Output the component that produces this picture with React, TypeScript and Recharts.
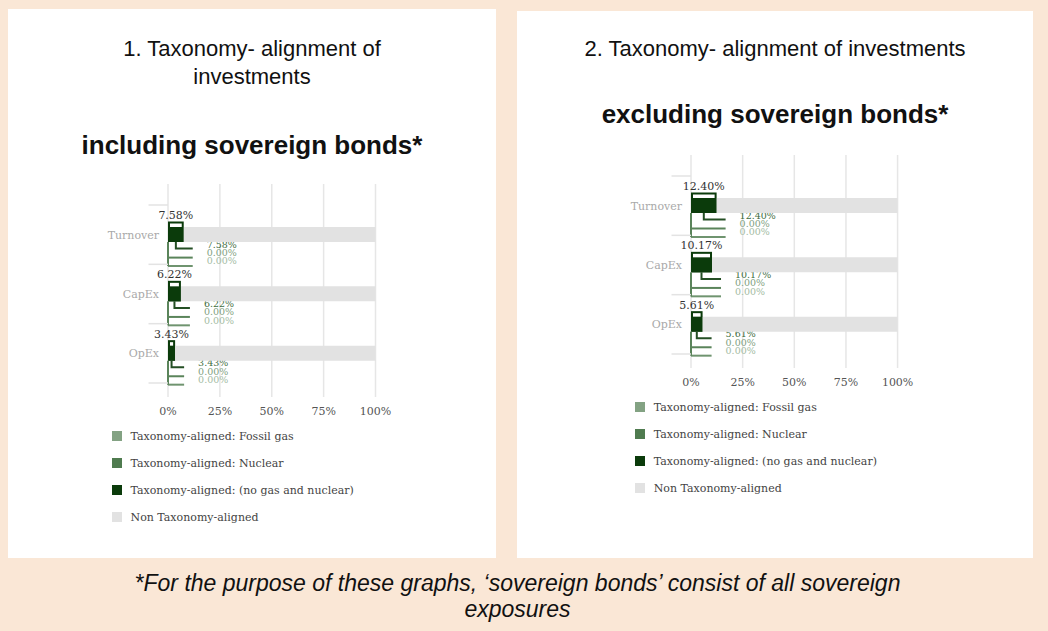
import { Bar, BarChart, CartesianGrid, XAxis, YAxis } from 'recharts'

// categories and values
const categories = ['Turnover', 'CapEx', 'OpEx']
const gasValues = [0, 0, 0]
const nuclearValues = [0, 0, 0]
const alignedInclSovereign = [7.58, 6.22, 3.43]
const nonAlignedInclSovereign = [92.42, 93.78, 96.57]
const alignedExclSovereign = [12.4, 10.17, 5.61]
const nonAlignedExclSovereign = [87.6, 89.83, 94.39]
const xTicks = [0, 25, 50, 75, 100]

const series = [
  { key: 'gas', name: 'Taxonomy-aligned: Fossil gas', color: '#83a283' },
  { key: 'nuclear', name: 'Taxonomy-aligned: Nuclear', color: '#4f7b4f' },
  { key: 'aligned', name: 'Taxonomy-aligned: (no gas and nuclear)', color: '#0b3b0b' },
  { key: 'non', name: 'Non Taxonomy-aligned', color: '#e2e2e2' },
]

const buildRows = (aligned: number[], non: number[]) =>
  categories.map((name, i) => ({
    name,
    gas: gasValues[i],
    nuclear: nuclearValues[i],
    aligned: aligned[i],
    non: non[i],
  }))

const inclRows = buildRows(alignedInclSovereign, nonAlignedInclSovereign)
const exclRows = buildRows(alignedExclSovereign, nonAlignedExclSovereign)

const SERIF = '"DejaVu Serif", serif'
const SANS = '"Liberation Sans", Arial, sans-serif'

const Y_W = 100
const TOP_M = 20
const PLOT_H = 213
const X_H = 33
const PAD_TOP = 21
const PAD_BOTTOM = 14
const BAND = (PLOT_H - PAD_TOP - PAD_BOTTOM) / categories.length
const Y_TICK_MARGIN = 9

const pct = (v: number) => `${v.toFixed(2)}%`

function CategoryTick(props: any) {
  const { x, y, payload, index, visibleTicksCount } = props
  const axisX = x + Y_TICK_MARGIN
  const last = index === (visibleTicksCount ?? categories.length) - 1
  return (
    <g>
      <line x1={axisX - 19.5} x2={axisX} y1={y - BAND / 2} y2={y - BAND / 2} stroke="#e3e3e3" strokeWidth={1.5} />
      {last && (
        <line x1={axisX - 19.5} x2={axisX} y1={y + BAND / 2} y2={y + BAND / 2} stroke="#e3e3e3" strokeWidth={1.5} />
      )}
      <text x={x} y={y} dy={4} textAnchor="end" fill="#a9a9a9" fontSize={11} fontFamily={SERIF}>
        {payload.value}
      </text>
    </g>
  )
}

// dark bar with its boxed label and the leader lines for the three aligned parts
function AlignedShape(props: any) {
  const { x, y, width, height, payload } = props
  const bottom = y + height
  const cx = x + width / 2
  const end = x + width + 9
  const labelX = end + 14
  return (
    <g>
      <rect x={x + 1} y={y - 4.5} width={Math.max(width - 2, 0)} height={height + 3.5} fill="#fff" stroke="#0b3b0b" strokeWidth={2} />
      <rect x={x} y={y} width={width} height={height} fill="#0b3b0b" />
      <text x={cx} y={y - 8} textAnchor="middle" fill="#333" fontSize={11} fontFamily={SERIF}>
        {pct(payload.aligned)}
      </text>
      <polyline points={`${cx},${bottom} ${cx},${bottom + 6.6} ${end},${bottom + 6.6}`} fill="none" stroke="#244f24" strokeWidth={2} />
      <line x1={x} x2={end} y1={bottom + 15.6} y2={bottom + 15.6} stroke="#5a845a" strokeWidth={2} />
      <line x1={x} x2={end} y1={bottom + 24} y2={bottom + 24} stroke="#6f946f" strokeWidth={2} />
      <line x1={x} x2={x} y1={bottom} y2={bottom + 24} stroke="#5a845a" strokeWidth={2} />
      <text x={labelX} y={bottom + 5.8} fill="#3f6e3f" fontSize={9.5} fontFamily={SERIF}>
        {pct(payload.aligned)}
      </text>
      <text x={labelX} y={bottom + 14} fill="#7f9f7f" fontSize={9.5} fontFamily={SERIF}>
        {pct(payload.nuclear)}
      </text>
      <text x={labelX} y={bottom + 22.4} fill="#a3bba3" fontSize={9.5} fontFamily={SERIF}>
        {pct(payload.gas)}
      </text>
    </g>
  )
}

function TaxonomyChart({ data, plotLeft, plotTop, plotWidth }: { data: any[]; plotLeft: number; plotTop: number; plotWidth: number }) {
  const width = Y_W + plotWidth + 40
  const height = TOP_M + PLOT_H + X_H
  return (
    <>
      <div style={{ position: 'absolute', left: plotLeft - Y_W, top: plotTop - TOP_M }}>
        <BarChart
          layout="vertical"
          width={width}
          height={height}
          data={data}
          margin={{ top: TOP_M, right: 40, bottom: 0, left: 0 }}
          barSize={15}
        >
          <CartesianGrid horizontal={false} stroke="#e6e6e6" strokeWidth={1.5} />
          <XAxis
            type="number"
            domain={[0, 100]}
            ticks={xTicks}
            tickFormatter={(v: number) => `${v}%`}
            axisLine={false}
            tickLine={false}
            tickSize={0}
            tickMargin={10}
            height={X_H}
            interval={0}
            tick={{ fill: '#555', fontSize: 11, fontFamily: SERIF }}
          />
          <YAxis
            type="category"
            dataKey="name"
            width={Y_W}
            axisLine={false}
            tickLine={false}
            tickSize={0}
            tickMargin={Y_TICK_MARGIN}
            padding={{ top: PAD_TOP, bottom: PAD_BOTTOM }}
            tick={<CategoryTick />}
            interval={0}
          />
          <Bar dataKey="gas" stackId="s" fill={series[0].color} isAnimationActive={false} />
          <Bar dataKey="nuclear" stackId="s" fill={series[1].color} isAnimationActive={false} />
          <Bar dataKey="aligned" stackId="s" fill={series[2].color} shape={<AlignedShape />} isAnimationActive={false} />
          <Bar dataKey="non" stackId="s" fill={series[3].color} isAnimationActive={false} />
        </BarChart>
      </div>
      <div style={{ position: 'absolute', left: plotLeft - 56, top: plotTop + PLOT_H + 39 - 9, fontFamily: SERIF, fontSize: 11, color: '#444' }}>
        {series.map((s) => (
          <div key={s.key} style={{ display: 'flex', alignItems: 'center', height: 27 - 9, marginBottom: 9 }}>
            <span style={{ width: 10, height: 10, background: s.color, display: 'inline-block', marginRight: 9 }} />
            <span>{s.name}</span>
          </div>
        ))}
      </div>
    </>
  )
}

export default function App() {
  return (
    <div style={{ position: 'absolute', left: 0, top: 0, width: 1048, height: 631, background: '#fae7d6', overflow: 'hidden' }}>
      <div style={{ position: 'absolute', left: 8, top: 9, width: 488, height: 549, background: '#fff' }} />
      <div style={{ position: 'absolute', left: 517, top: 11, width: 516, height: 547, background: '#fff' }} />

      <div style={{ position: 'absolute', left: 8, top: 35, width: 488, textAlign: 'center', fontFamily: SANS, fontSize: 22, lineHeight: '28px', color: '#111' }}>
        <div>1. Taxonomy- alignment of</div>
        <div>investments</div>
        <div style={{ fontWeight: 'bold', fontSize: 26, lineHeight: '30px', marginTop: 39 }}>including sovereign bonds*</div>
      </div>
      <div style={{ position: 'absolute', left: 517, top: 35, width: 516, textAlign: 'center', fontFamily: SANS, fontSize: 22, lineHeight: '28px', color: '#111' }}>
        <div>2. Taxonomy- alignment of investments</div>
        <div style={{ fontWeight: 'bold', fontSize: 26, lineHeight: '30px', marginTop: 36 }}>excluding sovereign bonds*</div>
      </div>

      <TaxonomyChart data={inclRows} plotLeft={167.5} plotTop={184} plotWidth={207.5} />
      <TaxonomyChart data={exclRows} plotLeft={690.7} plotTop={155} plotWidth={206.6} />

      <div style={{ position: 'absolute', left: 0, top: 570, width: 1035, textAlign: 'center', fontFamily: SANS, fontStyle: 'italic', fontSize: 23, lineHeight: '26px', color: '#111' }}>
        <div>*For the purpose of these graphs, ‘sovereign bonds’ consist of all sovereign</div>
        <div>exposures</div>
      </div>
    </div>
  )
}
